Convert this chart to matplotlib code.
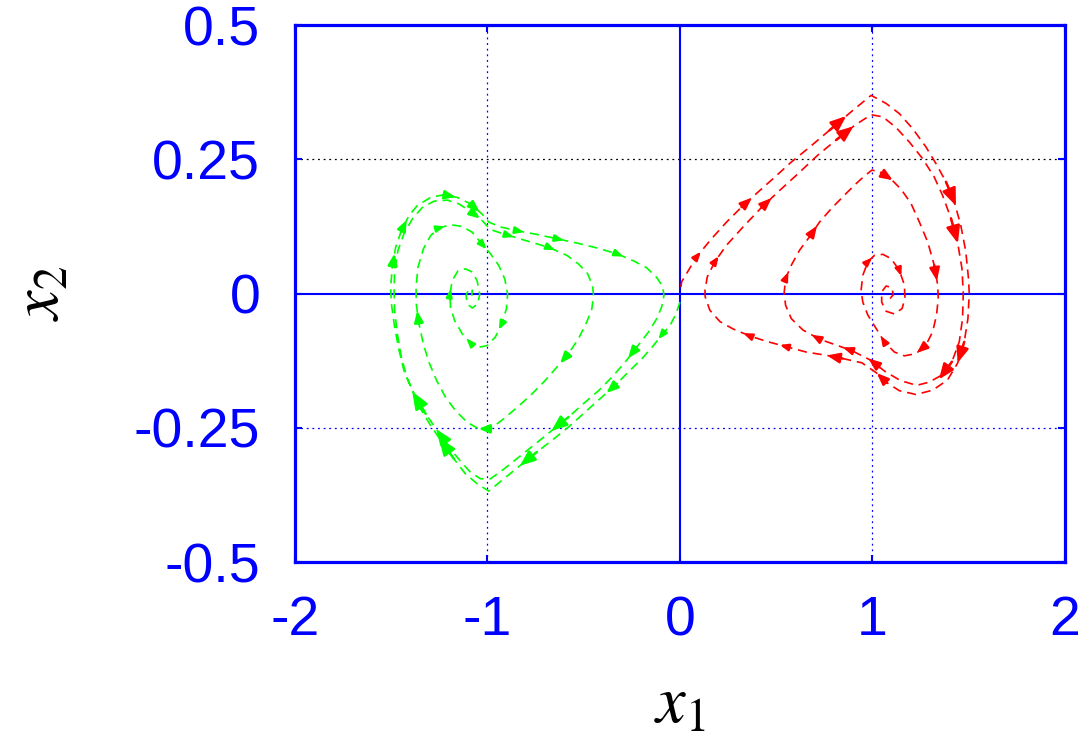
import numpy as np
import matplotlib.pyplot as plt

plt.rcParams['mathtext.fontset'] = 'stix'

# phase trajectory in the right well (starts near the saddle, spirals in)
red_x = [0.005, 0.009, 0.086, 0.164, 0.242, 0.320, 0.406, 0.484, 0.579, 0.665,
         0.777, 0.898, 0.993, 1.071, 1.140, 1.209, 1.278, 1.330, 1.382, 1.425,
         1.459, 1.485, 1.499, 1.503, 1.496, 1.477, 1.442, 1.390, 1.313, 1.226,
         1.140, 1.075, 1.022, 0.945, 0.845, 0.760, 0.656, 0.553, 0.449, 0.363,
         0.276, 0.207, 0.155, 0.131, 0.130, 0.142, 0.181, 0.242, 0.328, 0.423,
         0.518, 0.613, 0.717, 0.812, 0.907, 0.993, 1.054, 1.123, 1.192, 1.261,
         1.321, 1.364, 1.408, 1.442, 1.465, 1.472, 1.468, 1.451, 1.413, 1.364,
         1.295, 1.230, 1.145, 1.065, 1.036, 0.990, 0.891, 0.812, 0.725, 0.639,
         0.579, 0.549, 0.541, 0.549, 0.579, 0.622, 0.674, 0.725, 0.786, 0.846,
         0.907, 0.959, 0.998, 1.045, 1.097, 1.149, 1.200, 1.244, 1.287, 1.321,
         1.339, 1.342, 1.333, 1.313, 1.278, 1.226, 1.166, 1.114, 1.062, 1.019,
         0.976, 0.950, 0.941, 0.950, 0.976, 1.010, 1.054, 1.097, 1.140, 1.166,
         1.169, 1.154, 1.114, 1.071, 1.048, 1.048, 1.071, 1.100, 1.109, 1.092,
         1.079]
red_y = [0.012, 0.022, 0.068, 0.102, 0.133, 0.161, 0.189, 0.214, 0.245, 0.270,
         0.304, 0.341, 0.369, 0.354, 0.335, 0.307, 0.273, 0.242, 0.208, 0.171,
         0.127, 0.078, 0.028, 0.000, -0.047, -0.090, -0.130, -0.161, -0.180, -0.188,
         -0.181, -0.166, -0.148, -0.129, -0.121, -0.115, -0.109, -0.099, -0.089, -0.079,
         -0.066, -0.052, -0.031, -0.006, 0.006, 0.031, 0.059, 0.090, 0.124, 0.160,
         0.192, 0.223, 0.258, 0.286, 0.313, 0.333, 0.329, 0.309, 0.282, 0.251,
         0.217, 0.183, 0.140, 0.096, 0.047, 0.000, -0.047, -0.090, -0.127, -0.151,
         -0.165, -0.171, -0.162, -0.145, -0.137, -0.124, -0.106, -0.096, -0.085, -0.068,
         -0.047, -0.022, 0.000, 0.028, 0.053, 0.081, 0.106, 0.133, 0.158, 0.180,
         0.202, 0.219, 0.230, 0.225, 0.213, 0.194, 0.168, 0.133, 0.096, 0.053,
         0.016, -0.009, -0.040, -0.071, -0.096, -0.112, -0.116, -0.109, -0.090, -0.065,
         -0.040, -0.016, 0.006, 0.034, 0.059, 0.071, 0.073, 0.065, 0.043, 0.016,
         -0.009, -0.028, -0.038, -0.033, -0.016, 0.003, 0.014, 0.011, -0.002, -0.009,
         -0.003]
red_arrow_idx = [2, 5, 10, 18, 25, 31, 34, 37, 39, 46, 49, 53, 62, 68, 74, 76, 78,
                 83, 86, 93, 99, 104, 108, 114, 118]
red_arrow_len = [7, 14, 22, 26, 22, 14, 16, 7, 7, 7, 14, 22, 26, 22, 14, 9, 9,
                 7, 13, 14, 16, 12, 7, 6, 6]

# phase trajectory in the left well
green_x = [0.000, -0.021, -0.052, -0.090, -0.138, -0.199, -0.268, -0.328, -0.397, -0.484,
           -0.570, -0.656, -0.743, -0.829, -0.915, -0.993, -1.054, -1.114, -1.174, -1.235,
           -1.295, -1.347, -1.390, -1.434, -1.459, -1.482, -1.499, -1.503, -1.494, -1.477,
           -1.447, -1.408, -1.364, -1.295, -1.226, -1.157, -1.088, -1.028, -0.993, -0.933,
           -0.846, -0.743, -0.639, -0.535, -0.432, -0.328, -0.242, -0.173, -0.121, -0.090,
           -0.083, -0.095, -0.121, -0.164, -0.225, -0.285, -0.354, -0.423, -0.501, -0.579,
           -0.665, -0.751, -0.838, -0.915, -0.984, -1.036, -1.088, -1.143, -1.200, -1.261,
           -1.321, -1.373, -1.416, -1.447, -1.468, -1.482, -1.485, -1.482, -1.465, -1.434,
           -1.390, -1.339, -1.278, -1.209, -1.149, -1.088, -1.036, -0.984, -0.898, -0.786,
           -0.682, -0.587, -0.527, -0.480, -0.454, -0.449, -0.458, -0.484, -0.527, -0.579,
           -0.639, -0.708, -0.777, -0.846, -0.915, -0.984, -1.045, -1.105, -1.166, -1.218,
           -1.264, -1.304, -1.333, -1.356, -1.370, -1.371, -1.361, -1.333, -1.295, -1.252,
           -1.192, -1.131, -1.079, -1.028, -0.984, -0.941, -0.910, -0.895, -0.902, -0.925,
           -0.959, -1.002, -1.045, -1.088, -1.131, -1.171, -1.192, -1.195, -1.183, -1.154,
           -1.114, -1.079, -1.054, -1.040, -1.050, -1.079, -1.105, -1.111, -1.097, -1.079,
           -1.081]
green_y = [-0.016, -0.038, -0.060, -0.075, -0.097, -0.122, -0.146, -0.168, -0.190, -0.218,
           -0.246, -0.271, -0.295, -0.320, -0.345, -0.368, -0.354, -0.336, -0.308, -0.277,
           -0.246, -0.215, -0.181, -0.143, -0.106, -0.063, -0.019, 0.012, 0.049, 0.086,
           0.117, 0.145, 0.164, 0.179, 0.184, 0.179, 0.167, 0.148, 0.133, 0.124,
           0.117, 0.110, 0.102, 0.094, 0.085, 0.074, 0.061, 0.048, 0.030, 0.013,
           -0.004, -0.025, -0.047, -0.072, -0.100, -0.128, -0.156, -0.181, -0.205, -0.230,
           -0.255, -0.280, -0.305, -0.327, -0.345, -0.345, -0.333, -0.311, -0.286, -0.255,
           -0.224, -0.193, -0.159, -0.119, -0.075, -0.032, 0.006, 0.043, 0.080, 0.111,
           0.139, 0.160, 0.172, 0.174, 0.167, 0.153, 0.139, 0.119, 0.109, 0.097,
           0.086, 0.071, 0.055, 0.037, 0.015, -0.004, -0.029, -0.053, -0.084, -0.112,
           -0.137, -0.165, -0.190, -0.212, -0.233, -0.252, -0.252, -0.240, -0.218, -0.193,
           -0.162, -0.128, -0.094, -0.056, -0.019, 0.012, 0.049, 0.083, 0.108, 0.122,
           0.128, 0.125, 0.114, 0.092, 0.074, 0.052, 0.027, -0.001, -0.029, -0.056,
           -0.081, -0.097, -0.100, -0.092, -0.075, -0.050, -0.025, -0.001, 0.024, 0.042,
           0.046, 0.040, 0.024, -0.001, -0.019, -0.027, -0.019, -0.004, 0.009, 0.006,
           -0.004]
green_arrow_idx = [3, 7, 12, 18, 28, 30, 34, 36, 40, 42, 45, 54, 59, 68, 70, 85, 88, 90,
                   99, 105, 113, 119, 123, 129, 133, 137]
green_arrow_len = [7, 14, 22, 26, 14, 12, 12, 12, 7, 7, 7, 14, 22, 22, 26, 12, 7, 7,
                   13, 12, 13, 6, 7, 7, 6, 5]

xticks = [-2, -1, 0, 1, 2]
xtick_labels = ['-2', '-1', '0', '1', '2']
yticks = [-0.5, -0.25, 0, 0.25, 0.5]
ytick_labels = ['-0.5', '-0.25', '0', '0.25', '0.5']

blue = '#0000ff'

fig = plt.figure(figsize=(10.9, 7.45), dpi=100)
ax = fig.add_axes([0.2706, 0.2456, 0.7064, 0.7208])
ax.set_xlim(-2, 2)
ax.set_ylim(-0.5, 0.5)

# grid and zero axes
for xv in (-1, 1):
    ax.axvline(xv, color=blue, lw=0.9, ls=(0, (1.5, 3)), zorder=1)
ax.axhline(0.25, color='black', lw=0.9, ls=(0, (1.5, 3)), zorder=1)
ax.axhline(-0.25, color=blue, lw=0.9, ls=(0, (1.5, 3)), zorder=1)
ax.axvline(0, color=blue, lw=1.5, zorder=1)
ax.axhline(0, color=blue, lw=1.5, zorder=1)


def draw_traj(xs, ys, idx, lens, color):
    xs = np.array(xs)
    ys = np.array(ys)
    ax.plot(xs, ys, color=color, lw=1.2, ls=(0, (5.5, 3.5)), zorder=3)
    pts = ax.transData.transform(np.column_stack([xs, ys]))
    inv = ax.transData.inverted()
    for i, L in zip(idx, lens):
        d = pts[i + 1] - pts[i]
        d = d / np.hypot(*d)
        tail = inv.transform(pts[i])
        head = inv.transform(pts[i] + L * d)
        ms = 4 + 0.42 * L
        ax.annotate('', xy=head, xytext=tail,
                    arrowprops=dict(arrowstyle='-|>,head_length=0.7,head_width=0.28',
                                    color=color, lw=1.8, shrinkA=0, shrinkB=0,
                                    mutation_scale=ms),
                    zorder=4)


draw_traj(red_x, red_y, red_arrow_idx, red_arrow_len, '#ff0000')
draw_traj(green_x, green_y, green_arrow_idx, green_arrow_len, '#00ff00')

for s in ax.spines.values():
    s.set_color(blue)
    s.set_linewidth(2.3)

ax.set_xticks(xticks)
ax.set_xticklabels(xtick_labels)
ax.set_yticks(yticks)
ax.set_yticklabels(ytick_labels)
ax.tick_params(axis='both', direction='in', color=blue, labelcolor=blue,
               length=5, width=1.5, top=True, right=True, labelsize=40)
ax.tick_params(axis='x', pad=24)
ax.tick_params(axis='y', pad=25)
for lab in ax.get_xticklabels() + ax.get_yticklabels():
    lab.set_fontfamily('Liberation Sans')

ax.set_xlabel(r'$x_1$', fontsize=48, color='black', labelpad=16)
fig.text(0.036, 0.607, r'$x_2$', fontsize=48, color='black', rotation=90,
         ha='center', va='center')

fig.savefig('out.png', dpi=100)
